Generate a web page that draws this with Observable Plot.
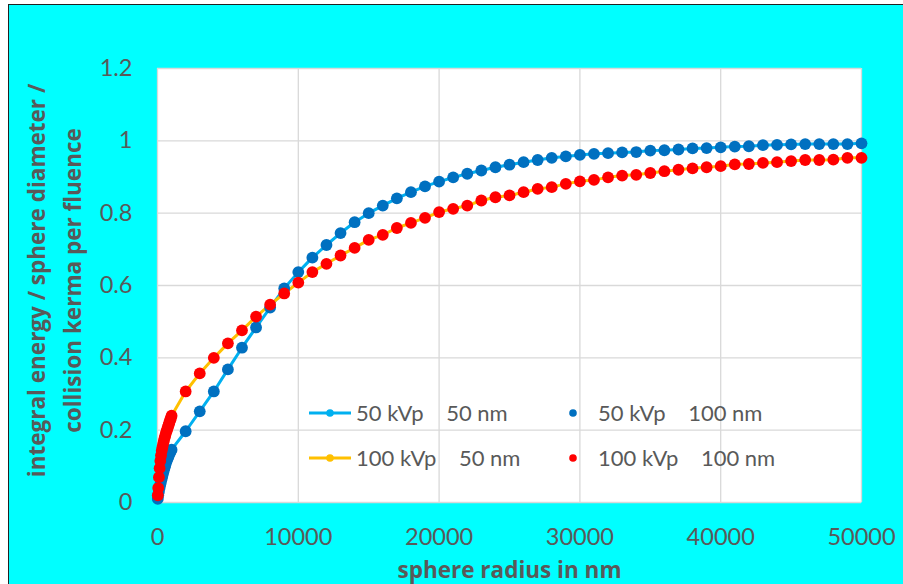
<!DOCTYPE html>
<html>
<head>
<meta charset="utf-8">
<script src="https://cdn.jsdelivr.net/npm/d3@7"></script>
<script src="https://cdn.jsdelivr.net/npm/@observablehq/plot@0.6"></script>
<style>
  html, body { margin: 0; padding: 0; background: #ffffff; width: 903px; height: 584px; overflow: hidden; }
  #bg { position: absolute; left: 8px; top: 4px; width: 1000px; height: 700px; background: #00ffff;
        border-left: 1.5px solid #222; border-top: 1.5px solid #222; }
  #chart { position: absolute; left: 0; top: 0; }
  #legend { position: absolute; left: 0; top: 0; font-family: Lato, sans-serif; font-size: 22px; color: #595959; }
  .item { position: absolute; white-space: pre; line-height: 1; display: flex; align-items: center; }
  .item svg { margin-right: 5px; }
</style>
</head>
<body>
<div id="bg"></div>
<div id="chart"></div>
<div id="legend"></div>
<script>
// ---- data ----
const radiusDense = [20, 50, 100, 150, 200, 250, 300, 350, 400, 450, 500, 550, 600, 650, 700, 750, 800, 850, 900, 950];
const radiusCoarse = [1000, 2000, 3000, 4000, 5000, 6000, 7000, 8000, 9000, 10000,
  11000, 12000, 13000, 14000, 15000, 16000, 17000, 18000, 19000, 20000,
  21000, 22000, 23000, 24000, 25000, 26000, 27000, 28000, 29000, 30000,
  31000, 32000, 33000, 34000, 35000, 36000, 37000, 38000, 39000, 40000,
  41000, 42000, 43000, 44000, 45000, 46000, 47000, 48000, 49000, 50000];

// 50 kVp, 100 nm
const kvp50Dense = [0.010, 0.020, 0.030, 0.040, 0.050, 0.058, 0.066, 0.074, 0.082, 0.089,
  0.096, 0.103, 0.109, 0.115, 0.120, 0.125, 0.130, 0.135, 0.139, 0.143];
const kvp50Coarse = [0.146, 0.197, 0.252, 0.307, 0.368, 0.428, 0.484, 0.539, 0.592, 0.637,
  0.677, 0.712, 0.745, 0.775, 0.800, 0.821, 0.841, 0.858, 0.874, 0.887,
  0.899, 0.909, 0.918, 0.927, 0.934, 0.941, 0.947, 0.953, 0.957, 0.961,
  0.964, 0.966, 0.968, 0.969, 0.973, 0.974, 0.976, 0.979, 0.980, 0.982,
  0.984, 0.985, 0.988, 0.989, 0.990, 0.991, 0.991, 0.991, 0.991, 0.993];

// 100 kVp, 100 nm
const kvp100Dense = [0.020, 0.040, 0.070, 0.095, 0.115, 0.130, 0.143, 0.153, 0.162, 0.170,
  0.178, 0.185, 0.192, 0.198, 0.204, 0.210, 0.216, 0.222, 0.228, 0.233];
const kvp100Coarse = [0.240, 0.307, 0.357, 0.400, 0.440, 0.476, 0.514, 0.547, 0.578, 0.608,
  0.637, 0.660, 0.683, 0.704, 0.726, 0.740, 0.759, 0.773, 0.787, 0.803,
  0.812, 0.821, 0.835, 0.844, 0.849, 0.858, 0.867, 0.872, 0.881, 0.888,
  0.892, 0.899, 0.904, 0.906, 0.911, 0.916, 0.920, 0.924, 0.927, 0.930,
  0.935, 0.936, 0.939, 0.941, 0.944, 0.947, 0.947, 0.948, 0.953, 0.953];

// 50 nm series (lines) lie under the 100 nm dots in the picture
const kvp50Line = kvp50Coarse;
const kvp100Line = kvp100Coarse;

const xTicks = [0, 10000, 20000, 30000, 40000, 50000];
const yTicks = [0, 0.2, 0.4, 0.6, 0.8, 1, 1.2];
const xTitle = "sphere radius in nm";
const yTitle = "integral energy / sphere diameter /\ncollision kerma per fluence";
const legendLabels = ["50 kVp    50 nm", "50 kVp    100 nm", "100 kVp    50 nm", "100 kVp    100 nm"];
const colors = { kvp50_50: "#00b0f0", kvp50_100: "#0070c0", kvp100_50: "#ffc000", kvp100_100: "#ff0000" };

// ---- build tables ----
const toRows = (xs, ys) => xs.map((x, i) => ({ x, y: ys[i] }));
const s50_100 = toRows(radiusDense, kvp50Dense).concat(toRows(radiusCoarse, kvp50Coarse));
const s100_100 = toRows(radiusDense, kvp100Dense).concat(toRows(radiusCoarse, kvp100Coarse));
const s50_50 = toRows(radiusDense, kvp50Dense).concat(toRows(radiusCoarse, kvp50Line));
const s100_50 = toRows(radiusDense, kvp100Dense).concat(toRows(radiusCoarse, kvp100Line));

const titleFont = "'Open Sans', sans-serif";

const chart = Plot.plot({
  width: 903,
  height: 584,
  marginLeft: 157,
  marginRight: 42,
  marginTop: 68,
  marginBottom: 82,
  style: { background: "transparent", fontFamily: "Lato, sans-serif", fontSize: "23.5px", color: "#595959", overflow: "visible" },
  x: { domain: [0, 50000], label: null },
  y: { domain: [0, 1.2], label: null },
  marks: [
    Plot.frame({ fill: "white", stroke: null }),
    Plot.gridX(xTicks, { stroke: "#d9d9d9", strokeOpacity: 1, strokeWidth: 1.3 }),
    Plot.gridY(yTicks, { stroke: "#d9d9d9", strokeOpacity: 1, strokeWidth: 1.3 }),
    Plot.axisX(xTicks, { tickSize: 0, tickPadding: 26, tickFormat: d => String(d), fill: "#595959", label: null }),
    Plot.axisY(yTicks, { tickSize: 0, tickPadding: 25, tickFormat: d => String(d), fill: "#595959", label: null }),
    Plot.line(s50_50, { x: "x", y: "y", stroke: colors.kvp50_50, strokeWidth: 3 }),
    Plot.dot(s50_50, { x: "x", y: "y", fill: colors.kvp50_50, r: 3.6 }),
    Plot.line(s100_50, { x: "x", y: "y", stroke: colors.kvp100_50, strokeWidth: 3 }),
    Plot.dot(s100_50, { x: "x", y: "y", fill: colors.kvp100_50, r: 3.6 }),
    Plot.dot(s50_100, { x: "x", y: "y", fill: colors.kvp50_100, r: 5.9 }),
    Plot.dot(s100_100, { x: "x", y: "y", fill: colors.kvp100_100, r: 5.9 }),
    Plot.text([xTitle], { frameAnchor: "bottom", dy: 68, fontWeight: "bold", fontSize: 22.5, fontFamily: titleFont, fill: "#595959", lineAnchor: "middle", textAnchor: "middle" }),
    Plot.text([yTitle], { frameAnchor: "left", dx: -106, dy: -5, rotate: -90, fontWeight: "bold", fontSize: 22.5, fontFamily: titleFont, fill: "#595959", lineAnchor: "middle", textAnchor: "middle", lineHeight: 1.62 })
  ]
});
document.getElementById("chart").appendChild(chart);

// ---- legend ----
const legend = document.getElementById("legend");
const legendItems = [
  { label: legendLabels[0], color: colors.kvp50_50, line: true, left: 309, top: 413 },
  { label: legendLabels[1], color: colors.kvp50_100, line: false, left: 567, top: 413 },
  { label: legendLabels[2], color: colors.kvp100_50, line: true, left: 309, top: 458 },
  { label: legendLabels[3], color: colors.kvp100_100, line: false, left: 567, top: 458 }
];
legendItems.forEach(it => {
  const div = document.createElement("div");
  div.className = "item";
  div.style.left = it.left + "px";
  div.style.top = (it.top - 12) + "px";
  div.style.height = "24px";
  const w = it.line ? 42 : 26;
  const sym = it.line
    ? `<svg width="${w}" height="12"><line x1="0" x2="${w}" y1="6" y2="6" stroke="${it.color}" stroke-width="3"/><circle cx="${w/2}" cy="6" r="3.8" fill="${it.color}"/></svg>`
    : `<svg width="${w}" height="12"><circle cx="6" cy="6" r="3.8" fill="${it.color}"/></svg>`;
  div.innerHTML = sym + `<span>${it.label}</span>`;
  legend.appendChild(div);
});
</script>
</body>
</html>
